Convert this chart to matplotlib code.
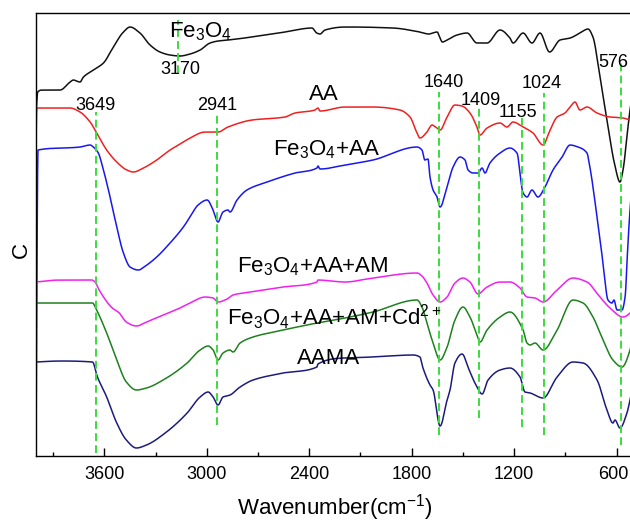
import numpy as np
import matplotlib
matplotlib.use("Agg")
import matplotlib.pyplot as plt
import matplotlib.transforms as mtransforms

plt.rcParams['font.family'] = ['Liberation Sans', 'DejaVu Sans']
plt.rcParams['mathtext.fontset'] = 'custom'
plt.rcParams['mathtext.rm'] = 'Liberation Sans'
plt.rcParams['mathtext.it'] = 'Liberation Sans:italic'
plt.rcParams['mathtext.bf'] = 'Liberation Sans:bold'

# ---- FTIR spectra (wavenumber in cm^-1, offset transmittance in a.u.) ----
fe3o4_wn = [4000, 3990, 3966, 3859, 3800, 3781, 3742, 3722, 3664, 3605, 3547, 3488, 3449,
            3391, 3332, 3274, 3215, 3157, 3098, 3039, 2981, 2934, 2876, 2735, 2542, 2384,
            2356, 2337, 2308, 2191, 2161, 1910, 1752, 1700, 1652, 1620, 1593, 1535, 1476,
            1418, 1359, 1283, 1225, 1207, 1148, 1096, 1049, 993, 932, 873, 815, 768, 739,
            698, 657, 610, 581, 563, 534, 522, 500]
fe3o4_t = [339, 364, 366, 366, 374, 376, 374, 379, 386, 393, 409, 424, 429,
           423, 411, 404, 401, 400, 402, 406, 413, 415, 416, 419, 424, 428,
           423, 422, 426, 429, 429, 428, 424, 422, 424, 414, 416, 421, 423,
           413, 413, 426, 418, 413, 423, 413, 423, 404, 416, 418, 423, 427, 419,
           379, 336, 290, 274, 286, 329, 346, 370]

aa_wn = [4000, 3995, 3800, 3742, 3683, 3644, 3586, 3527, 3468, 3430, 3371, 3293, 3215,
         3137, 3098, 3010, 2934, 2876, 2735, 2542, 2483, 2366, 2349, 2337, 2191, 2027,
         1869, 1810, 1769, 1752, 1711, 1681, 1652, 1634, 1593, 1547, 1506, 1459, 1418,
         1400, 1359, 1283, 1242, 1207, 1148, 1090, 1031, 990, 949, 903, 873, 844, 815,
         774, 715, 639, 563, 522, 500]
aa_t = [309, 348, 348, 344, 334, 323, 306, 294, 286, 284, 288, 296, 306,
        314, 318, 324, 324, 329, 336, 339, 343, 346, 348, 345, 349, 349,
        346, 339, 323, 318, 324, 331, 328, 326, 339, 351, 350, 343, 329,
        321, 328, 333, 329, 334, 329, 323, 311, 326, 339, 343, 349, 354, 346,
        349, 343, 339, 338, 336, 335]

fe3o4_aa_wn = [4000, 3988, 3742, 3683, 3664, 3635, 3605, 3566, 3527, 3488, 3449, 3401,
               3351, 3293, 3215, 3137, 3098, 3051, 2998, 2963, 2934, 2905, 2876, 2864,
               2823, 2765, 2647, 2483, 2355, 2349, 2337, 2191, 2027, 1769, 1740, 1723,
               1705, 1693, 1675, 1652, 1634, 1593, 1558, 1517, 1488, 1470, 1441, 1412,
               1388, 1371, 1342, 1283, 1225, 1184, 1148, 1125, 1096, 1061, 1020, 973,
               920, 873, 826, 774, 756, 715, 680, 651, 628, 616, 598, 569, 551, 534,
               522, 500]
fe3o4_aa_t = [0, 306, 309, 311, 309, 303, 286, 259, 229, 203, 189, 186,
              191, 199, 213, 229, 239, 251, 256, 246, 234, 244, 246, 244,
              256, 266, 274, 283, 288, 290, 287, 291, 296, 309, 306, 296,
              297, 279, 266, 259, 249, 269, 289, 299, 296, 286, 283, 283,
              288, 283, 293, 303, 308, 303, 263, 259, 266, 259, 269, 286,
              299, 311, 309, 303, 288, 239, 193, 156, 153, 156, 146, 146, 159, 213,
              246, 290]

fe3o4_aa_am_wn = [4000, 3859, 3673, 3654, 3630, 3553, 3512, 3471, 3412, 3353, 3256,
                  3157, 3098, 3010, 2963, 2934, 2881, 2846, 2746, 2553, 2355, 2349,
                  2191, 2027, 1769, 1740, 1711, 1675, 1634, 1593, 1547, 1500, 1459,
                  1412, 1359, 1283, 1225, 1166, 1125, 1078, 1031, 949, 856, 774, 698,
                  639, 563, 522, 500]
fe3o4_aa_am_t = [174, 176, 176, 174, 166, 148, 143, 134, 130, 134, 141,
                 148, 153, 159, 158, 154, 157, 161, 164, 169, 174, 176,
                 174, 178, 183, 180, 173, 161, 154, 159, 173, 178, 174,
                 162, 169, 174, 174, 168, 159, 158, 154, 166, 178, 174, 159,
                 148, 139, 143, 150]

fe3o4_aa_am_cd_wn = [4000, 3859, 3669, 3645, 3586, 3527, 3471, 3412, 3353, 3236, 3115,
                     3039, 2992, 2963, 2934, 2905, 2864, 2846, 2805, 2729, 2553, 2355,
                     2191, 2027, 1769, 1740, 1711, 1675, 1634, 1593, 1547, 1500, 1459,
                     1418, 1400, 1359, 1283, 1225, 1148, 1125, 1107, 1078, 1031, 949,
                     856, 797, 739, 680, 622, 569, 522, 500]
fe3o4_aa_am_cd_t = [153, 153, 153, 146, 123, 96, 74, 66, 68, 78, 93,
                    106, 110, 106, 96, 103, 106, 104, 113, 119, 126, 133,
                    138, 144, 156, 149, 133, 113, 96, 109, 136, 149, 139,
                    121, 114, 126, 139, 144, 126, 113, 111, 113, 106, 126,
                    156, 153, 139, 116, 96, 89, 106, 125]

aama_wn = [4000, 3859, 3669, 3640, 3586, 3527, 3471, 3412, 3353, 3236, 3115, 3039,
           2992, 2963, 2934, 2905, 2864, 2805, 2729, 2553, 2355, 2349, 2202, 2027,
           1792, 1752, 1734, 1693, 1675, 1634, 1593, 1576, 1547, 1506, 1459, 1418,
           1388, 1353, 1283, 1225, 1166, 1137, 1107, 1031, 949, 856, 797, 715, 657,
           622, 610, 581, 540, 522, 500]
aama_t = [94, 95, 94, 79, 59, 33, 16, 8, 11, 24, 43, 59,
          64, 59, 51, 59, 61, 69, 76, 83, 89, 92, 98, 99,
          101, 99, 88, 71, 66, 30, 56, 66, 93, 102, 84, 69,
          62, 76, 86, 88, 79, 64, 63, 58, 79, 94, 93, 76, 46,
          33, 36, 28, 43, 56, 75]

series = [
    (fe3o4_wn, fe3o4_t, '#111111'),
    (aa_wn, aa_t, '#f02020'),
    (fe3o4_aa_wn, fe3o4_aa_t, '#1818ee'),
    (fe3o4_aa_am_wn, fe3o4_aa_am_t, '#f020f0'),
    (fe3o4_aa_am_cd_wn, fe3o4_aa_am_cd_t, '#1f801f'),
    (aama_wn, aama_t, '#1c1c7c'),
]

curve_labels = ['Fe$_3$O$_4$', 'AA', 'Fe$_3$O$_4$+AA', 'Fe$_3$O$_4$+AA+AM',
                'Fe$_3$O$_4$+AA+AM+Cd$^{2+}$', 'AAMA']
curve_label_pos = [(3039, 419), (2313, 356), (2301, 301), (2378, 184), (2255, 131), (2287, 92)]

# Assigned band positions (cm^-1) and their marker extents / label placement
peaks = [3170, 3649, 2941, 1640, 1409, 1155, 1024, 576]
peak_spans = [(383, 436), (3, 344), (31, 344), (21, 364), (38, 349), (29, 341), (21, 363), (11, 393)]
peak_label_pos = [(3157, 382), (3649, 346), (2941, 346), (1610, 369), (1394, 351),
                  (1178, 339), (1037, 368), (622, 389)]

xticks = [3600, 3000, 2400, 1800, 1200, 600]
xminor = [3900, 3300, 2700, 2100, 1500, 900]


def pchip(x, y, xn):
    """Shape-preserving piecewise cubic Hermite interpolation (x ascending)."""
    x = np.asarray(x, float)
    y = np.asarray(y, float)
    h = np.diff(x)
    d = np.diff(y) / h
    m = np.zeros_like(y)
    m[0], m[-1] = d[0], d[-1]
    for k in range(1, len(x) - 1):
        if d[k - 1] * d[k] > 0:
            w1 = 2 * h[k] + h[k - 1]
            w2 = h[k] + 2 * h[k - 1]
            m[k] = (w1 + w2) / (w1 / d[k - 1] + w2 / d[k])
    idx = np.clip(np.searchsorted(x, xn) - 1, 0, len(x) - 2)
    t = (xn - x[idx]) / h[idx]
    h00 = 2 * t**3 - 3 * t**2 + 1
    h10 = t**3 - 2 * t**2 + t
    h01 = -2 * t**3 + 3 * t**2
    h11 = t**3 - t**2
    return (h00 * y[idx] + h10 * h[idx] * m[idx] + h01 * y[idx + 1]
            + h11 * h[idx] * m[idx + 1])


fig = plt.figure(figsize=(6.30, 5.23), dpi=100)
ax = fig.add_axes([0.0571, 0.1281, 0.9489, 0.8470])

for wn, t, color in series:
    xs = np.asarray(wn[::-1], float)
    ys = np.asarray(t[::-1], float)
    grid = np.linspace(xs[0], xs[-1], 4000)
    ax.plot(grid, pchip(xs, ys, grid), color=color, lw=1.1, zorder=2)

for text, (lx, ly) in zip(curve_labels, curve_label_pos):
    ax.text(lx, ly, text, fontsize=16, ha='center', va='baseline', zorder=4)

for p, (y0, y1), (lx, ly) in zip(peaks, peak_spans, peak_label_pos):
    ax.plot([p, p], [y0, y1], color='#3cdc3c', lw=1.4,
            linestyle=(0, (4.0, 2.2)), zorder=3)
    ax.text(lx, ly, str(p), fontsize=13, ha='center', va='baseline', zorder=4)

ax.set_xlim(4000, 500)
ax.set_ylim(0, 443)
ax.set_xticks(xticks)
ax.set_xticks(xminor, minor=True)
ax.set_yticks([])
ax.tick_params(axis='x', which='major', direction='in', length=6, width=1.0,
               labelsize=13, pad=7)
ax.tick_params(axis='x', which='minor', direction='in', length=3, width=1.0)
for s in ax.spines.values():
    s.set_linewidth(1.0)

ax.set_xlabel('Wavenumber(cm$^{-1}$)', fontsize=16, va='baseline')
ax.xaxis.set_label_coords(0.5, -0.133)
ax.set_ylabel('C', fontsize=16, va='center')
ax.yaxis.set_label_coords(-0.024, 0.465)

# keep the right-most tick label inside the canvas
fig.canvas.draw()
last = ax.xaxis.get_majorticklabels()[-1]
last.set_transform(last.get_transform()
                   + mtransforms.ScaledTranslation(-3 / 100, 0, fig.dpi_scale_trans))

fig.savefig('out.png', dpi=100)
